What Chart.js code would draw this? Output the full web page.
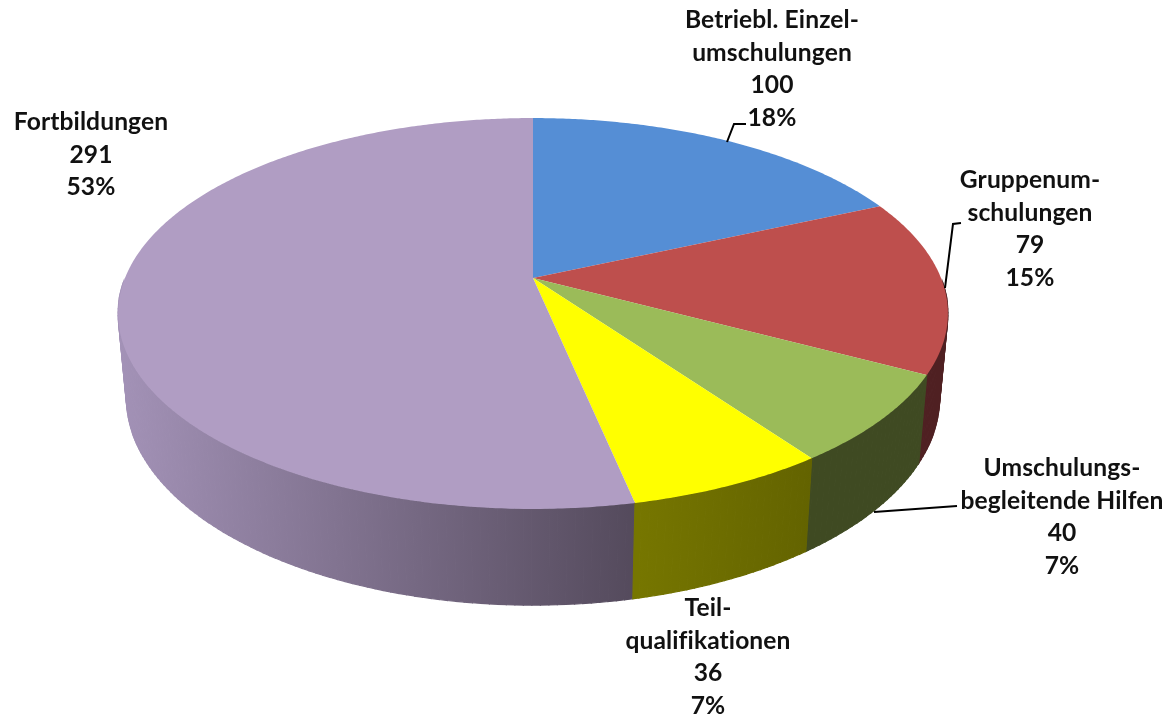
<!DOCTYPE html>
<html><head><meta charset="utf-8">
<script src="https://cdn.jsdelivr.net/npm/chart.js@4"></script>
<style>html,body{margin:0;padding:0;background:#fff}canvas{display:block}</style>
</head><body><canvas id="c" width="1167" height="715"></canvas>
<script>
const categories=[["Betriebl. Einzel-","umschulungen"],["Gruppenum-","schulungen"],["Umschulungs-","begleitende Hilfen"],["Teil-","qualifikationen"],["Fortbildungen"]];
const values=[100,79,40,36,291];
const percents=["18%","15%","7%","7%","53%"];
const topColors=["#558ed5","#be4f4d","#9bbb59","#ffff00","#b09dc3"];
const wallColors=[["#2a4a78","#2a4a78"],["#4f2022","#4f2022"],["#3f4a22","#3f4a22"],["#767600","#636300"],["#a392b7","#544a5c"]];
const labelPos=[[772,20],[1030,180],[1062,468],[708,608],[91,122]];
const leaders=[[[727,142],[734,124],[746,124]],[[945,288],[953,224],[961,223]],[[874,512],[957,506]],[],[]];
const LH=32.6;
const topP={x:533,y:278,A:408,B:189,k:0.1816};
const botP={x:533,y:360,A:400,B:201,k:0.18};
function proj(p,t){const u=Math.sin(t),v=-Math.cos(t),w=1-p.k*v;return [p.x+p.A*u/w,p.y+p.B*v/w];}
const pie3d={id:'pie3d',beforeDatasetsDraw(chart){
  const c=chart.ctx,arcs=chart.getDatasetMeta(0).data;
  const ang=arcs.map(a=>[a.startAngle+Math.PI/2,a.endAngle+Math.PI/2]);
  const step=Math.PI/180;
  [0,1,4,2,3].forEach(i=>{
    const [s,e]=ang[i];
    let xs=[];for(let t=s;t<=e;t+=step){const v=-Math.cos(t);if(v>0)xs.push(proj(topP,t)[0],proj(botP,t)[0]);}
    if(!xs.length)return;
    const g=c.createLinearGradient(Math.min(...xs),0,Math.max(...xs),0);
    g.addColorStop(0,wallColors[i][0]);g.addColorStop(1,wallColors[i][1]);
    c.fillStyle=g;c.strokeStyle=g;c.lineWidth=1.2;
    for(let t=s;t<e;t+=step){
      const t2=Math.min(t+step,e);
      if(-Math.cos(t)<0||-Math.cos(t2)<0)continue;
      const a=proj(topP,t),b=proj(topP,t2),d=proj(botP,t2),f=proj(botP,t);
      c.beginPath();c.moveTo(a[0],a[1]);c.lineTo(b[0],b[1]);c.lineTo(d[0],d[1]);c.lineTo(f[0],f[1]);c.closePath();c.stroke();c.fill();
    }
  });
  arcs.forEach((a,i)=>{
    const [s,e]=ang[i];
    c.beginPath();c.moveTo(topP.x,topP.y);
    for(let t=s;t<e;t+=step/2){const p=proj(topP,t);c.lineTo(p[0],p[1]);}
    const p=proj(topP,e);c.lineTo(p[0],p[1]);c.closePath();
    c.fillStyle=a.options.backgroundColor;c.fill();
  });
  return false;
},afterDraw(chart){
  const c=chart.ctx;
  c.save();c.strokeStyle="#000";c.lineWidth=2;
  leaders.forEach(l=>{if(!l.length)return;c.beginPath();l.forEach((p,j)=>j?c.lineTo(p[0],p[1]):c.moveTo(p[0],p[1]));c.stroke();});
  c.fillStyle="#111";c.font="bold 24.6px Lato";c.letterSpacing="0.1px";c.textAlign="center";c.textBaseline="middle";
  categories.forEach((lines,i)=>{
    const all=[...lines,String(values[i]),percents[i]];
    all.forEach((s,j)=>c.fillText(s,labelPos[i][0],labelPos[i][1]+j*LH));
  });
  c.restore();
}};
new Chart(document.getElementById('c'),{type:'pie',data:{labels:categories.map(l=>l.join(' ')),datasets:[{data:values,backgroundColor:topColors,borderWidth:0}]},
options:{responsive:false,animation:false,plugins:{legend:{display:false},tooltip:{enabled:false}}},plugins:[pie3d]});
</script></body></html>
